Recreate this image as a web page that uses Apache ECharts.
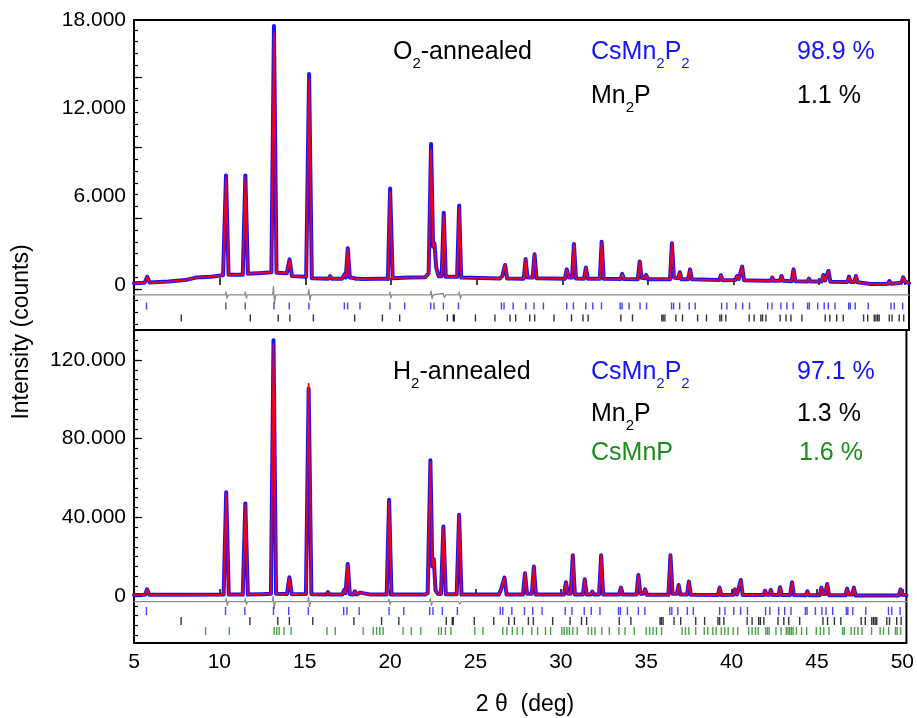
<!DOCTYPE html>
<html><head><meta charset="utf-8">
<script src="https://cdn.jsdelivr.net/npm/echarts@6/dist/echarts.min.js"></script>
<style>html,body{margin:0;padding:0;background:#fff}#c{width:917px;height:718px}</style>
</head><body><div id="c"></div><script>
// ---------- data (2θ in deg, intensity in counts) ----------
const xTicks = [5, 10, 15, 20, 25, 30, 35, 40, 45, 50];
const topYTicks = [0, 6000, 12000, 18000];
const botYTicks = [0, 40000, 80000, 120000];
const topLongTicks = [-270, 4530, 9330, 14130];
const botLongTicks = [0, 40000, 80000, 120000];

// [2θ, I_obs, I_calc]  – O2-annealed
const topProfile = [[5.00,110,110],[5.62,150,150],[5.77,560,560],[5.92,160,160],[7.00,230,230],[8.00,330,330],[8.60,500,500],[9.50,560,560],[10.20,660,660],[10.37,7300,7430],[10.52,690,690],[11.35,700,700],[11.50,7300,7430],[11.65,760,760],[12.50,820,820],[13.02,860,860],[13.17,17100,17600],[13.32,830,830],[13.92,800,800],[14.08,1700,1740],[14.22,600,600],[15.05,560,560],[15.22,14050,14330],[15.38,450,450],[16.35,420,420],[16.45,600,600],[16.55,420,420],[17.15,430,430],[17.27,700,700],[17.36,500,500],[17.48,2450,2500],[17.60,500,500],[17.82,480,480],[17.88,560,560],[17.96,420,420],[18.10,420,420],[18.18,540,540],[18.27,400,400],[19.42,420,420],[19.52,550,550],[19.62,420,420],[19.82,400,400],[19.95,6300,6550],[20.10,450,450],[21.00,500,500],[22.00,520,520],[22.20,800,800],[22.34,9200,9580],[22.46,2600,2600],[22.54,2830,2830],[22.64,1200,1200],[22.78,600,600],[22.96,600,600],[23.08,4750,4910],[23.20,550,550],[23.86,550,550],[23.98,5250,5390],[24.10,500,500],[26.35,440,440],[26.50,600,600],[26.56,600,600],[26.66,1360,1360],[26.78,440,440],[27.75,430,430],[27.86,1770,1770],[27.97,500,500],[28.27,500,500],[28.38,2080,2080],[28.50,450,450],[30.15,420,420],[30.26,1060,1060],[30.38,500,500],[30.57,500,500],[30.68,2790,2790],[30.80,440,440],[31.27,420,420],[31.38,1180,1180],[31.50,420,420],[32.19,420,420],[32.30,2940,2940],[32.42,420,420],[33.40,400,400],[33.50,750,750],[33.60,400,400],[34.41,390,390],[34.52,1590,1590],[34.64,480,480],[34.80,450,450],[34.90,680,680],[35.00,390,390],[36.29,390,390],[36.40,2830,2830],[36.52,500,500],[36.76,450,450],[36.86,860,860],[36.96,390,390],[37.35,390,390],[37.46,1060,1060],[37.57,380,380],[39.16,330,330],[39.26,660,660],[39.36,320,320],[40.10,330,330],[40.20,610,610],[40.30,400,400],[40.39,400,400],[40.50,1250,1250],[40.61,320,320],[41.86,280,280],[41.94,410,410],[42.02,280,280],[42.18,280,280],[42.26,500,500],[42.34,280,280],[42.70,280,280],[42.80,610,610],[42.90,280,280],[43.39,260,260],[43.50,1060,1060],[43.61,250,250],[44.31,240,240],[44.40,430,430],[44.49,230,230],[45.14,230,230],[45.24,680,680],[45.34,300,300],[45.43,300,300],[45.54,950,950],[45.65,220,220],[46.64,200,200],[46.74,570,570],[46.84,200,200],[47.04,200,200],[47.14,610,610],[47.24,180,180],[48.00,60,60],[49.00,60,60],[49.10,270,270],[49.20,80,80],[49.80,150,150],[49.90,520,520],[50.00,250,250],[50.24,120,120]];

// [2θ, I_obs, I_calc]  – H2-annealed
const botProfile = [[5.00,500,500],[5.65,600,600],[5.77,3400,3400],[5.90,600,600],[8.00,600,600],[10.25,700,700],[10.40,52000,52800],[10.55,700,700],[11.37,700,700],[11.52,46500,47000],[11.67,700,700],[12.30,900,900],[12.40,1800,1800],[12.50,900,900],[13.02,1200,1200],[13.17,128000,130100],[13.32,1200,1200],[13.96,1000,1000],[14.10,9300,9500],[14.24,900,900],[15.07,1000,1000],[15.23,107900,105500],[15.39,900,900],[16.26,700,700],[16.36,2000,2000],[16.46,700,700],[17.20,700,700],[17.30,3000,3000],[17.39,1500,1500],[17.52,16000,16300],[17.64,900,900],[17.84,800,800],[17.93,2400,2400],[18.03,800,800],[18.13,700,700],[18.22,1700,1700],[18.31,700,700],[18.90,700,700],[19.00,1360,1360],[19.10,700,700],[19.47,800,800],[19.55,1700,1700],[19.63,800,800],[19.80,800,800],[19.94,48000,48900],[20.08,700,700],[20.50,700,700],[20.60,1360,1360],[20.70,700,700],[22.05,700,700],[22.20,1500,1500],[22.36,67800,68960],[22.47,15000,15000],[22.56,18700,18700],[22.66,3000,3000],[22.80,1000,1000],[22.98,1000,1000],[23.12,35000,35300],[23.26,900,900],[23.90,900,900],[24.04,41300,41300],[24.18,700,700],[26.36,700,700],[26.50,3400,3400],[26.58,2500,2500],[26.70,9340,9340],[26.82,700,700],[27.78,700,700],[27.90,11550,11550],[28.02,1200,1200],[28.30,1200,1200],[28.42,14950,14950],[28.54,700,700],[30.18,700,700],[30.30,6960,6960],[30.42,1200,1200],[30.58,1200,1200],[30.70,20720,20720],[30.82,800,800],[31.29,700,700],[31.40,8490,8490],[31.51,800,800],[31.75,800,800],[31.84,2200,2200],[31.94,800,800],[32.24,800,800],[32.36,20720,20720],[32.48,700,700],[33.41,700,700],[33.52,4250,4250],[33.63,700,700],[34.43,700,700],[34.54,10700,10700],[34.66,1200,1200],[34.84,1200,1200],[34.94,3400,3400],[35.04,600,600],[36.30,600,600],[36.42,20720,20720],[36.54,1200,1200],[36.80,1200,1200],[36.90,5600,5600],[37.00,700,700],[37.39,700,700],[37.50,7300,7300],[37.61,600,600],[39.20,500,500],[39.30,4250,4250],[39.40,500,500],[40.10,600,600],[40.20,3400,3400],[40.32,800,800],[40.43,800,800],[40.54,8150,8150],[40.65,500,500],[41.87,500,500],[41.96,2700,2700],[42.06,600,600],[42.21,600,600],[42.30,3060,3060],[42.39,500,500],[42.75,500,500],[42.84,4420,4420],[42.94,500,500],[43.43,500,500],[43.54,6960,6960],[43.65,500,500],[44.35,400,400],[44.44,2380,2380],[44.53,400,400],[45.17,400,400],[45.26,4250,4250],[45.37,1000,1000],[45.49,1000,1000],[45.60,6120,6120],[45.71,400,400],[46.67,400,400],[46.76,3740,3740],[46.86,800,800],[47.06,800,800],[47.16,4250,4250],[47.27,300,300],[48.00,200,200],[49.00,200,200],[49.10,1000,1000],[49.20,200,200],[49.80,300,300],[49.90,3400,3400],[50.01,600,600],[50.24,400,400]];

// difference curves (obs - calc, offset)
const topDiff = [[5,-680],[10.32,-680],[10.37,-480],[10.43,-900],[10.50,-680],[11.45,-680],[11.50,-480],[11.56,-900],[11.62,-680],[13.09,-680],[13.14,-100],[13.20,-1250],[13.27,-680],[15.16,-680],[15.21,-300],[15.27,-1050],[15.33,-680],[19.90,-680],[19.95,-480],[20.00,-880],[20.06,-680],[22.29,-680],[22.34,-400],[22.40,-950],[22.46,-680],[23.04,-580],[23.12,-860],[23.19,-680],[23.94,-680],[23.99,-480],[24.05,-920],[24.12,-680],[50.24,-680]];
const botDiff = [[5,-2900],[10.35,-2900],[10.40,-1300],[10.46,-4700],[10.53,-2900],[11.47,-2900],[11.52,-1500],[11.58,-4300],[11.65,-2900],[13.10,-2900],[13.15,-200],[13.21,-6300],[13.28,-2900],[15.17,-2900],[15.22,-500],[15.28,-5300],[15.35,-2900],[19.89,-2900],[19.94,-1700],[19.99,-4200],[20.05,-2900],[22.31,-2900],[22.36,-1300],[22.42,-4600],[22.49,-2900],[23.07,-2900],[23.11,-2000],[23.17,-3900],[23.23,-2900],[23.99,-2900],[24.03,-2000],[24.09,-4100],[24.15,-2900],[50.24,-2900]];

// Bragg reflection positions
const reflCsMn2P2 = [5.73,10.36,11.49,13.17,14.06,15.21,17.28,17.47,18.19,19.94,20.80,22.32,22.51,23.06,23.94,26.45,26.60,27.13,27.87,28.35,28.90,30.26,30.65,31.37,31.78,32.29,33.38,33.49,33.90,34.54,34.92,36.38,36.50,36.85,37.41,37.76,39.30,39.61,40.13,40.53,40.93,41.99,42.24,42.76,43.11,43.48,44.32,44.42,44.91,45.29,45.53,45.92,46.72,46.81,47.10,47.86,49.19,49.38,49.87];
const reflMn2P = [7.76,11.79,13.42,14.10,15.47,17.88,19.50,20.51,23.29,23.64,23.70,24.93,26.07,26.95,27.28,28.10,28.39,29.52,30.54,31.21,31.51,33.42,34.10,35.81,35.89,35.99,36.63,37.02,37.90,38.42,39.20,39.30,39.55,40.91,41.20,41.59,41.69,41.89,42.72,43.06,43.35,43.99,45.35,45.62,46.02,46.40,47.59,47.83,48.21,48.31,48.41,48.50,49.09,49.25,49.67,49.93];
const reflCsMnP = [9.19,10.58,13.21,13.36,13.50,13.79,14.20,16.30,16.79,18.42,19.01,19.21,19.40,19.59,20.76,21.24,21.80,22.84,23.00,23.24,23.56,24.96,25.44,26.60,26.84,27.16,27.44,27.76,28.30,28.64,29.10,29.40,30.06,30.20,30.36,30.50,30.70,30.96,31.60,31.80,32.00,32.40,32.84,33.40,33.76,34.30,35.00,35.20,35.40,35.60,35.90,37.10,37.30,37.50,37.90,38.40,38.60,38.90,39.10,39.40,39.60,39.80,40.10,40.36,41.00,41.20,41.40,41.56,42.00,42.10,42.20,42.60,42.90,43.20,43.30,43.40,43.50,43.60,43.80,44.10,44.40,44.96,45.20,45.40,45.70,46.50,46.60,47.00,47.20,47.40,47.64,48.20,48.70,48.90,49.20,49.60,49.70,49.90];

// ---------- styling ----------
const FONT = '"Liberation Sans", Arial, sans-serif';
const BLUE = '#1414ff', RED = '#f00018', GREEN = '#1a8c1a', GRAY = '#8c8c8c';
const X_MIN = 5, X_MAX = 50.24;
const TOP_MIN = -3060, TOP_MAX = 18000, BOT_MIN = -23900, BOT_MAX = 135250;
const topTickY = {blue: -1430, black: -2240};
const botTickY = {blue: -7630, black: -12710, green: -17800};

function fmt(v){ return v === 0 ? '0' : String(v).replace(/\B(?=(\d{3})+(?!\d))/g, '.'); }
function range(a, b, s){ const r=[]; for(let v=a; v<=b+1e-9; v+=s) r.push(v); return r; }

function xAx(grid, labels){
  return {type:'value', gridIndex:grid, min:X_MIN, max:X_MAX, position:'bottom',
    axisLine:{show:false}, splitLine:{show:false},
    axisTick:{show:true, inside:true, length:7, customValues:xTicks, lineStyle:{color:'#000', width:1.5}},
    axisLabel:{show:labels, customValues:xTicks, fontSize:21, fontFamily:FONT, color:'#000', margin:9}};
}
function yLab(grid, mn, mx, ticks){
  return {type:'value', gridIndex:grid, min:mn, max:mx, position:'left', offset:0,
    axisLine:{show:false}, splitLine:{show:false}, axisTick:{show:false},
    axisLabel:{customValues:ticks, formatter:fmt, fontSize:21, fontFamily:FONT, color:'#000', margin:8}};
}
function yTick(grid, mn, mx, vals, len){
  return {type:'value', gridIndex:grid, min:mn, max:mx, position:'left', offset:0,
    axisLine:{show:false}, splitLine:{show:false}, axisLabel:{show:false},
    axisTick:{show:true, inside:true, length:len, customValues:vals, lineStyle:{color:'#000', width:1.2}}};
}
function line(xi, yi, data, color, w, z){
  return {type:'line', xAxisIndex:xi, yAxisIndex:yi, data:data, showSymbol:false, symbol:'none',
    lineStyle:{color:color, width:w, cap:'round', join:'round'}, z:z, clip:true, silent:true};
}
function refl(xi, yi, xs, y, color, h){
  return {type:'scatter', xAxisIndex:xi, yAxisIndex:yi, data:xs.map(x=>[x,y]), symbol:'rect',
    symbolSize:[1.4,h], itemStyle:{color:color}, z:3, silent:true};
}

function txt(x, y, rich, color){
  return {type:'text', x:x, y:y, style:{text:rich, fill:color, align:'left', verticalAlign:'top',
    rich:{a:{fontSize:25, fontFamily:FONT, fill:color, lineHeight:25, verticalAlign:'top'},
          s:{fontSize:15, fontFamily:FONT, fill:color, lineHeight:15, verticalAlign:'top', padding:[16,0,0,0]}}}};
}

const chart = echarts.init(document.getElementById('c'), null, {renderer:'canvas'});
chart.setOption({
  animation:false,
  backgroundColor:'#fff',
  grid:[
    {left:134, top:20, width:775, height:310, show:true, borderColor:'#000', borderWidth:2, backgroundColor:'transparent'},
    {left:134, top:330, width:775, height:313, show:true, borderColor:'#000', borderWidth:2, backgroundColor:'transparent'}
  ],
  xAxis:[xAx(0,false), xAx(1,true)],
  yAxis:[
    yLab(0, TOP_MIN, TOP_MAX, topYTicks),
    yTick(0, TOP_MIN, TOP_MAX, topLongTicks, 8),
    yTick(0, TOP_MIN, TOP_MAX, range(-2670, 17400, 800), 4),
    yLab(1, BOT_MIN, BOT_MAX, botYTicks),
    yTick(1, BOT_MIN, BOT_MAX, botLongTicks, 8),
    yTick(1, BOT_MIN, BOT_MAX, range(-20000, 135000, 5000), 4)
  ],
  series:[
    line(0,0, topDiff, GRAY, 1.3, 2),
    refl(0,0, reflCsMn2P2, topTickY.blue, BLUE, 7),
    refl(0,0, reflMn2P, topTickY.black, '#000', 7),
    line(0,0, topProfile.map(p=>[p[0],p[2]]), BLUE, 4, 4),
    line(0,0, topProfile.map(p=>[p[0],p[1]]), RED, 1.8, 5),
    line(1,3, botDiff, GRAY, 1.3, 2),
    refl(1,3, reflCsMn2P2, botTickY.blue, BLUE, 8),
    refl(1,3, reflMn2P, botTickY.black, '#000', 8),
    refl(1,3, reflCsMnP, botTickY.green, GREEN, 8),
    line(1,3, botProfile.map(p=>[p[0],p[2]]), BLUE, 4, 4),
    line(1,3, botProfile.map(p=>[p[0],p[1]]), RED, 1.8, 5)
  ],
  graphic:[
    txt(393, 40, '{a|O}{s|2}{a|-annealed}', '#000'),
    txt(591, 40, '{a|CsMn}{s|2}{a|P}{s|2}', BLUE),
    txt(797, 40, '{a|98.9 %}', BLUE),
    txt(591, 84, '{a|Mn}{s|2}{a|P}', '#000'),
    txt(797, 84, '{a|1.1 %}', '#000'),
    txt(393, 360, '{a|H}{s|2}{a|-annealed}', '#000'),
    txt(591, 360, '{a|CsMn}{s|2}{a|P}{s|2}', BLUE),
    txt(797, 360, '{a|97.1 %}', BLUE),
    txt(591, 402, '{a|Mn}{s|2}{a|P}', '#000'),
    txt(797, 402, '{a|1.3 %}', '#000'),
    txt(591, 441, '{a|CsMnP}', GREEN),
    txt(799, 441, '{a|1.6 %}', GREEN),
    {type:'text', x:22, y:332, rotation:Math.PI/2,
      style:{text:'Intensity (counts)', fontSize:23, fontFamily:FONT, fill:'#000', align:'center', verticalAlign:'middle'}},
    {type:'text', x:525, y:705,
      style:{text:'2 θ  (deg)', fontSize:23, fontFamily:FONT, fill:'#000', align:'center', verticalAlign:'middle'}}
  ]
});
</script></body></html>
